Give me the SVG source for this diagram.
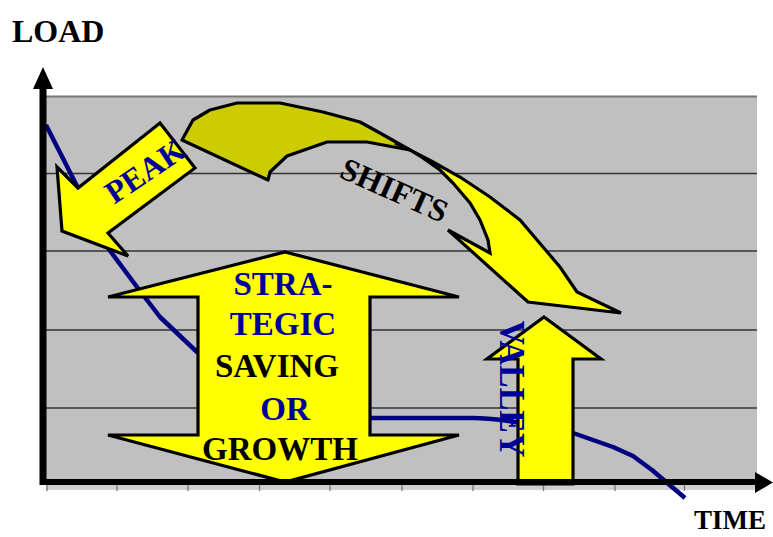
<svg xmlns="http://www.w3.org/2000/svg" width="773" height="537" viewBox="0 0 773 537">
<defs>
<style>
.grid{stroke:#333;stroke-width:1.3;fill:none}
.tick{stroke:#777;stroke-width:1.3}
.arrow{fill:#ffff00;stroke:#000;stroke-width:3.2;stroke-linejoin:miter}
.olive{fill:#cccc00;stroke:#000;stroke-width:3.2;stroke-linejoin:round}
.t{font-family:"Liberation Serif","Times New Roman",serif;font-weight:bold}
.blue{fill:#000099}
.black{fill:#000}
</style>
</defs>
<rect width="773" height="537" fill="#fff"/>
<g id="plot">
<rect x="46" y="96" width="711" height="386" fill="#c0c0c0"/>
<line x1="46" y1="96.5" x2="757" y2="96.5" stroke="#777" stroke-width="2"/>
<line class="grid" x1="46" y1="173.5" x2="757" y2="173.5"/>
<line class="grid" x1="46" y1="251" x2="757" y2="251"/>
<line class="grid" x1="46" y1="330" x2="757" y2="330"/>
<line class="grid" x1="46" y1="408" x2="757" y2="408"/>
<rect x="46" y="485" width="711" height="5" fill="#cfcfcf"/>
<g class="tick">
<line x1="47" y1="485" x2="47" y2="491"/>
<line x1="117" y1="485" x2="117" y2="491"/>
<line x1="188" y1="485" x2="188" y2="491"/>
<line x1="259.5" y1="485" x2="259.5" y2="491"/>
<line x1="330" y1="485" x2="330" y2="491"/>
<line x1="402" y1="485" x2="402" y2="491"/>
<line x1="473" y1="485" x2="473" y2="491"/>
<line x1="543.5" y1="485" x2="543.5" y2="491"/>
<line x1="615" y1="485" x2="615" y2="491"/>
<line x1="684.5" y1="485" x2="684.5" y2="491"/>
</g>
</g>
<g id="load-curve">
<path d="M46,125 L78,188 L108,248 L137,287 L160,317 L197,352 L260,400 L320,415 L372,418 L473,418 C490,418 500,420 515,422 L573,433 L613,447 L633,456 L652,470 L685,498" fill="none" stroke="#000080" stroke-width="4.5" stroke-linejoin="round"/>
</g>
<g id="peak">
<path class="arrow" d="M160,123 L195,168 L108,233 L128,256 L62,231 L57,167 L78,188 Z"/>
<text class="t blue" font-size="32" text-anchor="middle" transform="translate(151,180) rotate(-34)">PEAK</text>
</g>
<g id="shifts">
<path class="olive" d="M182,140 L193,120 L210,110 L237,103 L280,103 L323,112 L360,122 L380,133 L410,150 L367,142 L327,142 L287,156 L270,172 L268,180 Z"/>
<path class="arrow" stroke-linejoin="round" d="M395,143 L410,150 L433,162 L460,177 L490,197 L520,220 L543,247 L560,267 L577,292 L621,313 L528,302 L448,230 L490,253 L488,240 L480,220 L470,203 L453,183 L440,170 L423,158 L410,150"/>
<text class="t black" font-size="32" text-anchor="middle" transform="translate(390,200) rotate(24)">SHIFTS</text>
</g>
<g id="strategic">
<path class="arrow" d="M285,252 L459,297 L370,297 L370,435 L459,435 L285,482 L108,435 L198,435 L198,297 L108,297 Z"/>
<g class="t" font-size="33" text-anchor="middle">
<text class="blue" x="283" y="295">STRA-</text>
<text class="blue" x="283" y="335">TEGIC</text>
<text class="black" x="277" y="377">SAVING</text>
<text class="blue" x="285" y="420">OR</text>
<text class="black" x="280" y="460">GROWTH</text>
</g>
</g>
<g id="valley">
<path class="arrow" d="M544,317 L601,359 L573,359 L573,484 L518,484 L518,359 L487,359 Z"/>
<text class="t blue" font-size="35" text-anchor="middle" textLength="137" lengthAdjust="spacingAndGlyphs" transform="translate(500,389) rotate(90)">VALLEY</text>
</g>
<g id="axes">
<line x1="43" y1="85" x2="43" y2="485" stroke="#000" stroke-width="7"/>
<polygon points="43,67 53,89 33,89" fill="#000"/>
<line x1="40" y1="482" x2="758" y2="482" stroke="#000" stroke-width="6"/>
<polygon points="773,482.5 755,472 755,493" fill="#000"/>
<text class="t black" font-size="32" x="12" y="42">LOAD</text>
<text class="t black" font-size="27" x="694" y="529">TIME</text>
</g>
</svg>
